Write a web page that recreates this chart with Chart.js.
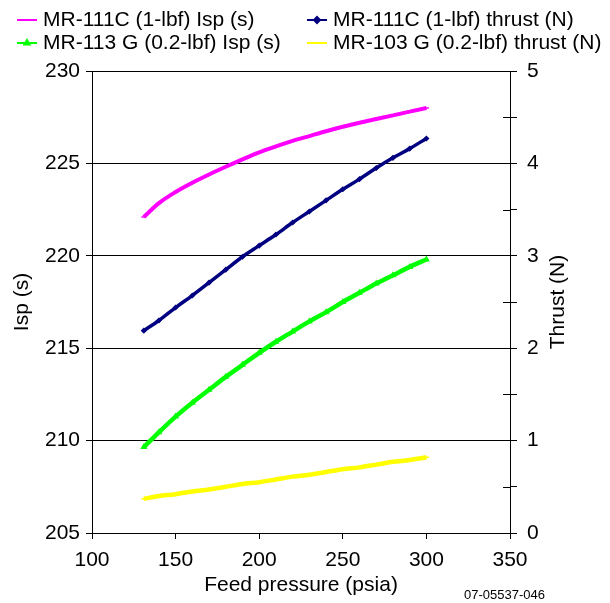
<!DOCTYPE html>
<html>
<head>
<meta charset="utf-8">
<script src="https://cdn.jsdelivr.net/npm/chart.js@4.4.1/dist/chart.umd.min.js"></script>
<style>
    html, body { margin: 0; padding: 0; background: #fff; }
    #chart { display: block; }
</style>
</head>
<body>
<canvas id="chart" width="610" height="603"></canvas>
<script>
// Feed pressure (psia) sample points
const pressure = [131, 140, 150, 160, 170, 180, 190, 200, 210, 220, 230, 240, 250, 260, 270, 280, 290, 300];

// MR-111C (1-lbf) Isp (s) - left axis
const isp111C = [222.1, 222.85, 223.45, 223.95, 224.4, 224.82, 225.22, 225.6, 225.92, 226.22, 226.48, 226.74, 226.98, 227.2, 227.4, 227.6, 227.8, 228.0];
// MR-111C (1-lbf) thrust (N) - right axis
const thrust111C = [2.19, 2.30, 2.44, 2.57, 2.71, 2.85, 2.99, 3.11, 3.23, 3.36, 3.48, 3.60, 3.72, 3.83, 3.95, 4.06, 4.16, 4.27];
// MR-113 G (0.2-lbf) Isp (s) - left axis
const isp113G = [209.65, 210.45, 211.3, 212.05, 212.75, 213.45, 214.1, 214.75, 215.35, 215.9, 216.45, 216.95, 217.5, 218.0, 218.5, 218.95, 219.4, 219.8];
// MR-103 G (0.2-lbf) thrust (N) - right axis
const thrust103G = [0.37, 0.40, 0.42, 0.45, 0.47, 0.50, 0.53, 0.55, 0.58, 0.61, 0.63, 0.66, 0.69, 0.71, 0.74, 0.77, 0.79, 0.82];

const seriesLabels = [
    'MR-111C (1-lbf) Isp (s)',
    'MR-111C (1-lbf) thrust (N)',
    'MR-113 G (0.2-lbf) Isp (s)',
    'MR-103 G (0.2-lbf) thrust (N)'
];

const xTicks = [100, 150, 200, 250, 300, 350];
const ispTicks = [205, 210, 215, 220, 225, 230];
const thrustTicks = [0, 1, 2, 3, 4, 5];

const FONT = 'Liberation Sans, Arial, sans-serif';

function toPoints(ys) {
    return pressure.map((p, i) => ({ x: p, y: ys[i] }));
}

function makeSeries(label, ys, axis, color, style, width, radius) {
    return {
        label: label,
        data: toPoints(ys),
        yAxisID: axis,
        borderColor: color,
        backgroundColor: color,
        borderWidth: width,
        pointStyle: style,
        pointRadius: radius,
        pointBorderWidth: 1.5,
        cubicInterpolationMode: 'monotone',
        fill: false
    };
}

// Legend (two fixed columns), right axis title and drawing number
const extrasPlugin = {
    id: 'extras',
    afterDraw(chart) {
        const ctx = chart.ctx;
        const ds = chart.data.datasets;
        const cols = [17, 307];
        const rows = [20, 43];
        const order = [[0, 0, 0], [1, 1, 0], [2, 0, 1], [3, 1, 1]];

        ctx.save();
        ctx.font = '21px ' + FONT;
        ctx.textBaseline = 'middle';
        ctx.textAlign = 'left';
        order.forEach(([i, c, r]) => {
            const d = ds[i];
            const x = cols[c];
            const y = rows[r];
            ctx.strokeStyle = d.borderColor;
            ctx.fillStyle = d.borderColor;
            ctx.lineWidth = 2;
            ctx.beginPath();
            ctx.moveTo(x, y);
            ctx.lineTo(x + 20, y);
            ctx.stroke();
            Chart.helpers.drawPoint(ctx, { pointStyle: d.pointStyle, radius: 3, rotation: 0, borderWidth: 1.5 }, x + 10, y);
            ctx.fillStyle = '#000';
            ctx.fillText(d.label, x + 26, y);
        });

        // inward half of the right axis minor ticks
        const yR = chart.scales.yR;
        ctx.strokeStyle = '#000';
        ctx.lineWidth = 1;
        for (let v = 0.5; v < 5; v += 1) {
            const py = Math.round(yR.getPixelForValue(v)) + 0.5;
            ctx.beginPath();
            ctx.moveTo(chart.chartArea.right - 7, py);
            ctx.lineTo(chart.chartArea.right, py);
            ctx.stroke();
        }

        // right axis title, reading bottom to top
        ctx.fillStyle = '#000';
        ctx.font = '21px ' + FONT;
        ctx.textAlign = 'center';
        ctx.translate(558, (chart.chartArea.top + chart.chartArea.bottom) / 2);
        ctx.rotate(-Math.PI / 2);
        ctx.fillText('Thrust (N)', 0, 0);
        ctx.restore();

        ctx.save();
        ctx.font = '13px ' + FONT;
        ctx.fillStyle = '#000';
        ctx.textAlign = 'left';
        ctx.textBaseline = 'middle';
        ctx.fillText('07-05537-046', 464, 595);
        ctx.restore();
    }
};

function createChart() {
    const ctx = document.getElementById('chart');

    const config = {
        type: 'line',
        data: {
            datasets: [
                makeSeries(seriesLabels[0], isp111C, 'yL', '#FF00FF', 'line', 4, 2.5),
                makeSeries(seriesLabels[1], thrust111C, 'yR', '#000080', 'rectRot', 3.5, 2),
                makeSeries(seriesLabels[2], isp113G, 'yL', '#00FF00', 'triangle', 4.5, 2.5),
                makeSeries(seriesLabels[3], thrust103G, 'yR', '#FFFF00', 'line', 4.5, 2.5)
            ]
        },
        options: {
            responsive: false,
            animation: false,
            layout: { padding: { top: 71, left: 0, right: 0, bottom: 0 } },
            plugins: {
                legend: { display: false },
                tooltip: { enabled: false }
            },
            scales: {
                x: {
                    type: 'linear',
                    min: xTicks[0],
                    max: xTicks[xTicks.length - 1],
                    afterBuildTicks: (s) => { s.ticks = xTicks.map(v => ({ value: v })); },
                    afterFit: (s) => { s.height = 70; },
                    grid: { drawOnChartArea: false, drawTicks: true, tickLength: 6, color: '#000' },
                    border: { display: true, color: '#000', width: 1 },
                    ticks: { color: '#000', font: { family: FONT, size: 21 }, padding: 9, maxRotation: 0 },
                    title: {
                        display: true,
                        text: 'Feed pressure (psia)',
                        color: '#000',
                        font: { family: FONT, size: 21 },
                        padding: { top: 0, bottom: 5 }
                    }
                },
                yL: {
                    type: 'linear',
                    position: 'left',
                    min: ispTicks[0],
                    max: ispTicks[ispTicks.length - 1],
                    afterBuildTicks: (s) => { s.ticks = ispTicks.map(v => ({ value: v })); },
                    afterFit: (s) => { s.width = 92; },
                    grid: { drawOnChartArea: true, drawTicks: true, tickLength: 6, color: '#000' },
                    border: { display: true, color: '#000', width: 1 },
                    ticks: { color: '#000', font: { family: FONT, size: 21 }, padding: 6 },
                    title: {
                        display: true,
                        text: 'Isp (s)',
                        color: '#000',
                        font: { family: FONT, size: 21 },
                        padding: { top: 10, bottom: 0 }
                    }
                },
                yR: {
                    type: 'linear',
                    position: 'right',
                    min: thrustTicks[0],
                    max: thrustTicks[thrustTicks.length - 1],
                    afterBuildTicks: (s) => {
                        const t = [];
                        thrustTicks.forEach((v, i) => {
                            t.push({ value: v });
                            if (i < thrustTicks.length - 1) t.push({ value: v + 0.5 });
                        });
                        s.ticks = t;
                    },
                    afterFit: (s) => { s.width = 100; },
                    grid: { drawOnChartArea: false, drawTicks: true, tickLength: 7, color: '#000' },
                    border: { display: true, color: '#000', width: 1 },
                    ticks: {
                        color: '#000',
                        font: { family: FONT, size: 21 },
                        padding: 10,
                        callback: (v) => (Number.isInteger(v) ? String(v) : '')
                    },
                    title: { display: false }
                }
            }
        },
        plugins: [extrasPlugin]
    };

    new Chart(ctx, config);
}

createChart();
</script>
</body>
</html>
